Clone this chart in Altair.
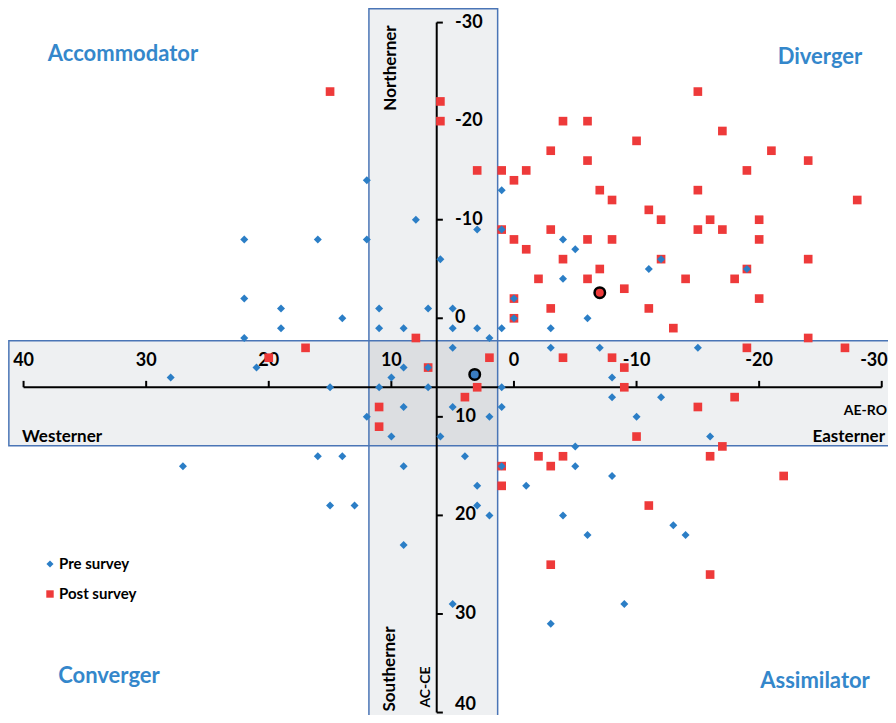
import altair as alt
import pandas as pd

# ---------------- data ----------------
pre_x = [12, 22, 16, 12, 8, 6, 3, 1, 1,
         22, 19, 14, 19, 22, 11, 11, 9, 7, 5, 5, 3, 2, 1, 5,
         21, 28, 15, 11, 10, 9, 7, 7, 1, 9, 12, 10, 6, 5, 2, 1,
         4, 9, 3, 3, 2, 9, 5, 1, 27, 16, 14, 15, 13,
         -1, -4, -13, -6, -14, -9, -3, -5, -5, -8, -16, -10, -8, -12, -8,
         -3, -7, -15, -3, -6, 0, 0, -4, -11, -19, -12, -5, -4]
pre_y = [-14, -8, -8, -8, -10, -6, -9, -9, -13,
         -2, -1, 0, 1, 2, -1, 1, 1, -1, -1, 1, 1, 2, 1, 3,
         5, 6, 7, 7, 6, 5, 5, 7, 7, 9, 10, 12, 12, 9, 10, 9,
         14, 15, 17, 19, 20, 23, 29, 15, 15, 14, 14, 19, 19,
         17, 20, 21, 22, 22, 29, 31, 13, 15, 16, 12, 10, 8, 8, 6,
         3, 3, 3, 1, 0, 0, -2, -4, -5, -5, -6, -7, -8]

post_x = [15, 6, 6, 3, 1, 8, 2, 3, 4, 11, 11, 7, 17, 20, 1, 1, 1,
          -3, -6, -1, 0, -7, -8, -11, -12, -3, 0, -6, -8, -1, -4, -12, -7, -2, -6, -9, 0, -3, -11, 0, -13,
          -15, -4, -6, -17, -10, -21, -24, -19, -15, -28, -16, -20, -15, -17, -20, -24, -19, -14, -18, -20, -24, -19, -27,
          -4, -8, -9, -9, -18, -15, -10, -17, -16, -22, -2, -4, -3, -11, -3, -16]
post_y = [-23, -22, -20, -15, -15, 2, 4, 7, 8, 9, 11, 5, 3, 4, 15, 17, -9,
          -17, -16, -15, -14, -13, -12, -11, -10, -9, -8, -8, -8, -7, -6, -6, -5, -4, -4, -3, -2, -1, -1, 0, 1,
          -23, -20, -20, -19, -18, -17, -16, -15, -13, -12, -10, -10, -9, -9, -8, -6, -5, -4, -4, -2, 2, 3, 3,
          4, 4, 5, 7, 8, 9, 12, 13, 14, 16, 14, 14, 15, 19, 25, 26]

series_names = ["Pre survey", "Post survey"]
mean_x = [3.2, -7.0]
mean_y = [5.7, -2.6]

x_ticks = [40, 30, 20, 10, 0, -10, -20, -30]
y_ticks = [-30, -20, -10, 0, 10, 20, 30, 40]

axis_x_at = 6.3    # AE-RO value where the AC-CE axis stands
axis_y_at = 7.0    # AC-CE value where the AE-RO axis stands
band_x = [1.33, 11.83]   # "Northerner/Southerner" band (AE-RO)
band_y = [2.27, 12.93]   # "Westerner/Easterner" band (AC-CE)

# ---------------- tables ----------------
pts = pd.DataFrame({
    "x": post_x + pre_x,
    "y": post_y + pre_y,
    "series": ["Post survey"] * len(post_x) + ["Pre survey"] * len(pre_x),
})
means = pd.DataFrame({"x": mean_x, "y": mean_y, "series": series_names})

bands = pd.DataFrame({
    "x1": [band_x[0], 41.2],
    "x2": [band_x[1], -32.0],
    "y1": [-31.4, band_y[0]],
    "y2": [41.0, band_y[1]],
})
inter = pd.DataFrame({"x1": [band_x[0]], "x2": [band_x[1]],
                      "y1": [band_y[0]], "y2": [band_y[1]]})

axes_df = pd.DataFrame({
    "x1": [x_ticks[0], axis_x_at],
    "x2": [x_ticks[-1], axis_x_at],
    "y1": [axis_y_at, y_ticks[0]],
    "y2": [axis_y_at, y_ticks[-1]],
})
ticks_df = pd.DataFrame({
    "x1": x_ticks + [axis_x_at] * len(y_ticks),
    "x2": x_ticks + [axis_x_at - 0.5] * len(y_ticks),
    "y1": [axis_y_at] * len(x_ticks) + y_ticks,
    "y2": [axis_y_at - 0.65] * len(x_ticks) + y_ticks,
})
xlab = pd.DataFrame({"x": x_ticks, "y": [4.3] * len(x_ticks),
                     "t": [str(v) for v in x_ticks]})
ylab = pd.DataFrame({"x": [4.8] * len(y_ticks), "y": y_ticks,
                     "t": [str(v) for v in y_ticks]})

W, H = 880, 707
xs = alt.Scale(domain=[-30.51, 41.27], reverse=True, nice=False, zero=False)
ys = alt.Scale(domain=[-31.48, 40.25], reverse=True, nice=False, zero=False)

FONT = "Lato"
BLUE = "#2b7ec6"
RED = "#ee3a3a"
LBL = "#3487cb"
EDGE = "#4a75b6"

X = lambda f: alt.X(f, scale=xs, axis=None)
Y = lambda f: alt.Y(f, scale=ys, axis=None)


def rect_enc(c):
    return c.encode(x=X("x1:Q"), x2="x2:Q", y=Y("y1:Q"), y2="y2:Q")


band_fill = rect_enc(alt.Chart(bands).mark_rect(fill="#eef0f2", clip=True))
inter_fill = rect_enc(alt.Chart(inter).mark_rect(fill="#dcdee1", clip=True))
band_edge = rect_enc(alt.Chart(bands).mark_rect(fillOpacity=0, stroke=EDGE,
                                                 strokeWidth=1.5, clip=True))

axis_lines = rect_enc(alt.Chart(axes_df).mark_rule(color="black", strokeWidth=2))
tick_lines = rect_enc(alt.Chart(ticks_df).mark_rule(color="black", strokeWidth=2))

txt = dict(font=FONT, fontSize=18, fontWeight="bold", color="black")
# x tick labels (the last one is pulled inside the right edge)
xlabels = alt.Chart(xlab).transform_filter(
    alt.datum.x != x_ticks[-1]).mark_text(
    align="center", baseline="middle", **txt).encode(
    x=X("x:Q"), y=Y("y:Q"), text="t:N")
xlabel_last = alt.Chart(xlab).transform_filter(
    alt.datum.x == x_ticks[-1]).mark_text(
    align="right", baseline="middle", dx=6, **txt).encode(
    x=X("x:Q"), y=Y("y:Q"), text="t:N")
# y tick labels (the last one is kept above the bottom edge)
ylabels = alt.Chart(ylab).transform_filter(
    alt.datum.y != y_ticks[-1]).mark_text(
    align="left", baseline="middle", **txt).encode(
    x=X("x:Q"), y=Y("y:Q"), text="t:N")
ylabel_last = alt.Chart(ylab).transform_filter(
    alt.datum.y == y_ticks[-1]).mark_text(
    align="left", baseline="alphabetic", dy=-3, **txt).encode(
    x=X("x:Q"), y=Y("y:Q"), text="t:N")

points = alt.Chart(pts).mark_point(filled=True, opacity=1).encode(
    x=X("x:Q"), y=Y("y:Q"),
    color=alt.Color("series:N", scale=alt.Scale(domain=series_names,
                                                range=[BLUE, RED]), legend=None),
    shape=alt.Shape("series:N", scale=alt.Scale(domain=series_names,
                                                range=["diamond", "square"]),
                    legend=None),
    size=alt.Size("series:N", scale=alt.Scale(domain=series_names,
                                              range=[64, 75]), legend=None),
)

mean_marks = alt.Chart(means).mark_point(shape="circle", filled=True, size=110,
                                         stroke="black", strokeWidth=2.5,
                                         opacity=1).encode(
    x=X("x:Q"), y=Y("y:Q"),
    fill=alt.Fill("series:N", scale=alt.Scale(domain=series_names,
                                              range=["#3a7cc0", RED]),
                  legend=None),
)

dummy = pd.DataFrame({"d": [0]})


def label(text, px, py, size, color="black", align="center", angle=0):
    kw = dict(text=text, font=FONT, fontSize=size, fontWeight="bold",
              color=color, align=align, baseline="middle")
    if angle:
        kw["angle"] = angle
    return alt.Chart(dummy).mark_text(**kw).encode(x=alt.value(px),
                                                   y=alt.value(py))


def legend_symbol(shape, color, size, px, py):
    return alt.Chart(dummy).mark_point(shape=shape, filled=True, color=color,
                                       size=size, opacity=1).encode(
        x=alt.value(px), y=alt.value(py))


annots = [
    label("Accommodator", 115, 46, 22, LBL),
    label("Diverger", 812, 49, 22, LBL),
    label("Converger", 101, 668, 22, LBL),
    label("Assimilator", 807, 673, 22, LBL),
    label("Northerner", 383, 60, 17, angle=270),
    label("Southerner", 382, 661, 17, angle=270),
    label("AC-CE", 418, 679, 14, angle=270),
    label("Westerner", 14, 429, 17, align="left"),
    label("Easterner", 877, 429, 17, align="right"),
    label("AE-RO", 879, 403, 14, align="right"),
    legend_symbol("diamond", BLUE, 50, 42, 556),
    legend_symbol("square", RED, 55, 42, 586),
    label("Pre survey", 51, 556, 15, align="left"),
    label("Post survey", 51, 586, 15, align="left"),
]

chart = alt.layer(
    band_fill, inter_fill, band_edge, axis_lines, tick_lines,
    xlabels, xlabel_last, ylabels, ylabel_last, points, mean_marks, *annots
).resolve_scale(fill="independent").properties(
    width=W, height=H, padding=0,
    autosize=alt.AutoSizeParams(type="none"),
    background="white",
).configure_view(stroke=None)

chart.save("out.html", embed_options={"renderer": "svg", "actions": False})
